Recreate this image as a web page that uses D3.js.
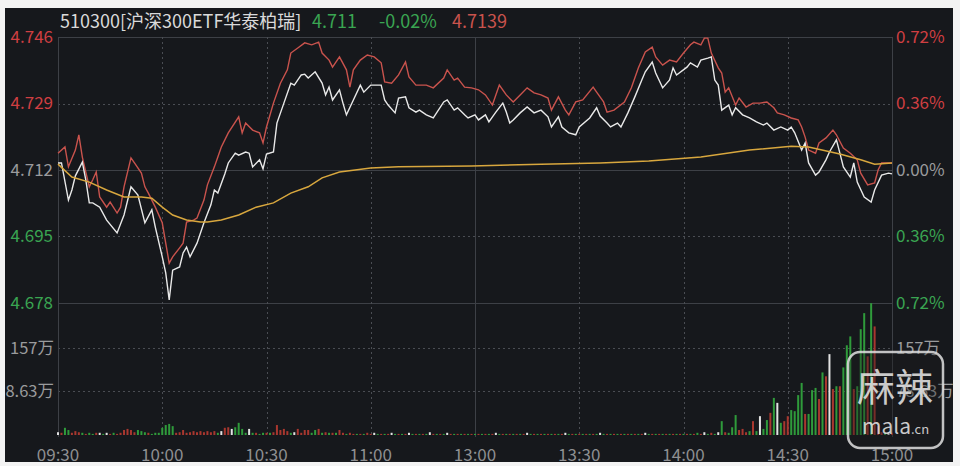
<!DOCTYPE html>
<html><head><meta charset="utf-8">
<script src="https://cdn.jsdelivr.net/npm/d3@7"></script>
<style>body{margin:0;background:#f3f3f3;} svg{display:block}</style>
</head><body><svg id="c" width="960" height="466"></svg>
<script>
// ---------- DATA ----------
const title = "510300[沪深300ETF华泰柏瑞]";
const headPrice = "4.711";
const headChange = "-0.02%";
const headIopv = "4.7139";
const prevClose = 4.712;
const timeTickMinutes = [0, 30, 60, 90, 120, 150, 180, 210, 240];
const timeTickLabels = ["09:30","10:00","10:30","11:00","13:00","13:30","14:00","14:30","15:00"];
const priceTicks = [4.746, 4.729, 4.712, 4.695, 4.678];
const priceTickLabels = ["4.746","4.729","4.712","4.695","4.678"];
const pctTickLabels = ["0.72%","0.36%","0.00%","0.36%","0.72%"];
const volTicks = [78.63, 157.26];
const volTickLabelsLeft = ["8.63万", "157万"];   // left label is cut at the frame edge in the source
const volTickLabelsRight = ["78.63万", "157万"];
const volMax = 238.3;

// [minute since 09:30, price]
const lastPrice = [[0,4.7138],[1,4.7138],[3,4.7043],[4,4.7069],[5,4.7105],[7,4.7140],[8,4.7095],[9,4.7036],[10,4.7036],[12,4.7025],[14,4.6992],[17,4.6959],[19,4.7005],[21,4.7077],[23,4.7056],[25,4.6985],[27,4.7018],[28,4.6974],[30,4.6898],[31,4.6857],[32,4.6788],[33,4.6864],[35,4.6872],[36,4.6908],[37,4.6923],[38,4.6898],[40,4.6933],[42,4.6985],[44,4.7031],[45,4.7069],[46,4.7061],[48,4.7110],[49,4.7138],[51,4.7163],[52,4.7158],[54,4.7166],[55,4.7163],[56,4.7128],[58,4.7146],[59,4.7123],[60,4.7161],[62,4.7166],[63,4.7240],[65,4.7291],[67,4.7342],[68,4.7337],[70,4.7363],[71,4.7365],[72,4.7355],[74,4.7371],[76,4.7342],[77,4.7312],[78,4.7332],[79,4.7299],[81,4.7325],[82,4.7291],[83,4.7261],[85,4.7299],[87,4.7337],[88,4.7319],[90,4.7337],[93,4.7337],[94,4.7299],[95,4.7286],[97,4.7266],[98,4.7304],[100,4.7307],[101,4.7279],[103,4.7268],[104,4.7273],[106,4.7261],[108,4.7253],[111,4.7294],[112,4.7299],[114,4.7273],[115,4.7279],[117,4.7261],[118,4.7253],[120,4.7261],[121,4.7248],[123,4.7261],[124,4.7243],[126,4.7268],[128,4.7291],[129,4.7268],[130,4.7240],[131,4.7248],[133,4.7266],[135,4.7281],[137,4.7266],[139,4.7273],[141,4.7256],[142,4.7230],[144,4.7256],[145,4.7230],[147,4.7215],[149,4.7210],[150,4.7230],[153,4.7253],[155,4.7279],[156,4.7258],[158,4.7240],[159,4.7230],[161,4.7240],[162,4.7230],[164,4.7266],[166,4.7307],[168,4.7350],[169,4.7371],[171,4.7396],[172,4.7368],[174,4.7330],[176,4.7350],[177,4.7381],[178,4.7363],[181,4.7383],[182,4.7394],[184,4.7383],[185,4.7401],[187,4.7406],[188,4.7409],[189,4.7350],[190,4.7337],[191,4.7273],[193,4.7286],[194,4.7261],[195,4.7279],[197,4.7261],[199,4.7253],[201,4.7243],[203,4.7235],[204,4.7240],[206,4.7222],[208,4.7230],[210,4.7222],[211,4.7230],[212,4.7215],[214,4.7171],[215,4.7189],[216,4.7138],[218,4.7107],[219,4.7115],[221,4.7146],[222,4.7166],[224,4.7197],[225,4.7163],[226,4.7128],[228,4.7102],[229,4.7138],[230,4.7089],[232,4.7051],[234,4.7038],[235,4.7069],[237,4.7107],[239,4.7112],[240,4.7110]];

const iopvLine = [[0,4.7163],[2,4.7179],[3,4.7128],[5,4.7171],[6,4.7210],[7,4.7153],[9,4.7077],[10,4.7095],[11,4.7115],[12,4.7051],[14,4.7025],[15,4.7038],[17,4.7010],[18,4.7025],[19,4.7077],[21,4.7151],[22,4.7138],[24,4.7112],[25,4.7077],[26,4.7061],[28,4.7025],[30,4.6985],[31,4.6933],[32,4.6882],[33,4.6898],[35,4.6921],[36,4.6933],[37,4.6987],[39,4.6992],[40,4.6997],[42,4.7043],[43,4.7082],[45,4.7128],[46,4.7153],[47,4.7179],[49,4.7215],[52,4.7256],[53,4.7215],[54,4.7240],[56,4.7222],[58,4.7215],[59,4.7189],[60,4.7230],[62,4.7291],[64,4.7342],[66,4.7376],[67,4.7419],[69,4.7432],[71,4.7445],[73,4.7440],[75,4.7447],[76,4.7419],[78,4.7401],[79,4.7383],[81,4.7409],[83,4.7376],[84,4.7332],[85,4.7376],[87,4.7401],[89,4.7414],[91,4.7409],[93,4.7394],[94,4.7345],[96,4.7342],[98,4.7363],[100,4.7396],[101,4.7358],[103,4.7337],[106,4.7337],[108,4.7330],[111,4.7355],[112,4.7376],[114,4.7350],[115,4.7355],[117,4.7332],[119,4.7330],[121,4.7325],[123,4.7312],[125,4.7286],[127,4.7337],[129,4.7312],[131,4.7294],[133,4.7312],[135,4.7330],[137,4.7317],[139,4.7312],[141,4.7304],[142,4.7273],[144,4.7307],[146,4.7273],[147,4.7261],[149,4.7294],[151,4.7299],[154,4.7332],[155,4.7319],[157,4.7294],[158,4.7268],[160,4.7273],[163,4.7294],[165,4.7330],[167,4.7381],[169,4.7422],[171,4.7434],[172,4.7409],[174,4.7388],[176,4.7401],[178,4.7396],[180,4.7419],[182,4.7440],[183,4.7447],[185,4.7440],[186,4.7457],[187,4.7457],[188,4.7419],[190,4.7381],[191,4.7368],[192,4.7319],[193,4.7330],[195,4.7286],[196,4.7304],[198,4.7281],[200,4.7291],[202,4.7291],[204,4.7294],[206,4.7279],[207,4.7266],[209,4.7261],[211,4.7253],[213,4.7248],[214,4.7230],[215,4.7204],[216,4.7171],[218,4.7163],[219,4.7189],[221,4.7202],[223,4.7222],[224,4.7210],[226,4.7176],[228,4.7163],[230,4.7146],[231,4.7112],[233,4.7082],[235,4.7087],[236,4.7120],[237,4.7138],[239,4.7138],[240,4.7138]];

const avgLine = [[0,4.7135],[4,4.7102],[9,4.7089],[14,4.7069],[19,4.7051],[24,4.7051],[27,4.7048],[30,4.7025],[33,4.7005],[37,4.6992],[41,4.6987],[43,4.6987],[47,4.6992],[52,4.7005],[57,4.7025],[62,4.7036],[67,4.7061],[72,4.7077],[76,4.7100],[81,4.7115],[90,4.7125],[98,4.7128],[119,4.7130],[139,4.7135],[156,4.7138],[170,4.7143],[185,4.7153],[199,4.7171],[211,4.7181],[216,4.7179],[225,4.7161],[231,4.7146],[235,4.7135],[240,4.7138]];

// per-minute volume (万), minute 0..240
const volume = [
 5,4,13,9,4,7,5,4,2,4,
 2,4,4,2,4,2,4,2,4,9,
 11,9,5,9,7,5,4,2,4,4,
 13,18,20,16,4,5,9,4,5,7,
 5,7,5,7,5,7,4,7,13,14,
 11,14,22,11,4,11,4,4,2,4,
 4,4,5,18,9,11,7,4,5,11,
 4,9,9,4,9,11,4,5,4,4,
 4,9,4,2,4,2,2,2,2,4,
 2,4,2,2,2,2,4,2,2,2,
 2,4,2,2,2,2,2,5,2,2,
 2,2,4,2,2,2,2,2,2,2,
 2,2,2,2,2,2,4,2,2,2,
 2,2,2,2,2,4,2,2,2,2,
 2,2,2,2,2,2,4,2,2,2,
 2,2,2,2,2,2,4,2,2,2,
 2,2,2,2,2,2,2,2,2,4,
 2,2,2,2,2,2,2,2,2,2,
 2,2,2,2,4,2,5,2,4,2,
 5,25,5,4,14,36,9,11,5,7,
 25,7,34,11,27,40,67,58,22,25,
 34,45,43,72,94,38,38,81,85,65,
 113,106,146,83,88,88,122,162,178,83,
 88,191,220,142,238,196,16,5,4,5,
 4];
// r = up (red), g = down (green), w = flat (white)
const volumeColor = (
 "wrggrrrgrg"+"grwgwrgrrr"+"rrrgggrggg"+"ggggrrrrrr"+"rrrrrrgwrr"+
 "wggggwgrgg"+"rgrrrrrgwr"+"rrrggrgrgr"+"grrgrrgrgr"+"rwgrgrwgrg"+
 "rwgrgrgwrg"+"rgwrgrgrgr"+"grgrgrwgrg"+"rgrgrwgrgr"+"grgrgrwgrg"+
 "rgrgrgwgrg"+"rgrgrgrgrw"+"grgrgrgrgr"+"grgrgrwgrg"+"wgrgggrrrg"+
 "rgwggrgwgr"+"rggggrgggr"+"grwrgrgggr"+"gggrgrrrgw"+"r").split("");

// ---------- DRAW ----------
const svg = d3.select("#c");
const W = 960, H = 466;
const L = 58, R = 892, T = 37, MID = 303, B = 435;
const FONT = "'Microsoft YaHei','Noto Sans CJK SC','Noto Sans',sans-serif";
const C = {bg:"#16181c", grid:"#3d4046", gridDash:"#4a4d53", red:"#cf3f42", green:"#3aa552", gray:"#9a9b9d",
  lineWhite:"#e9e9e9", lineRed:"#c9534d", lineYellow:"#d8a73e", volRed:"#a8372f", volGreen:"#2f9b3b", volWhite:"#e2e2e2"};

const x = d3.scaleLinear().domain([0, 240]).range([L, R]);
const y = d3.scaleLinear().domain([4.678, 4.746]).range([MID, T]);
const yv = d3.scaleLinear().domain([0, volMax]).range([B, MID]);

svg.append("rect").attr("width", W).attr("height", H).attr("fill", "#f3f3f3");
svg.append("defs").append("clipPath").attr("id", "panel")
  .append("rect").attr("x", 5).attr("y", 8).attr("width", 948).attr("height", 454);
svg.append("rect").attr("x", 5).attr("y", 8).attr("width", 948).attr("height", 454).attr("fill", C.bg);

const g = svg.append("g").attr("clip-path", "url(#panel)");

// horizontal grid
priceTicks.forEach((p, i) => {
  const solid = (i === 0 || i === 2 || i === 4);
  g.append("line").attr("x1", L).attr("x2", R).attr("y1", Math.round(y(p)) + 0.5).attr("y2", Math.round(y(p)) + 0.5)
    .attr("stroke", solid ? C.grid : C.gridDash).attr("stroke-width", 1)
    .attr("stroke-dasharray", solid ? null : "2,3");
});
volTicks.forEach(v => {
  g.append("line").attr("x1", L).attr("x2", R).attr("y1", Math.round(yv(v)) + 0.5).attr("y2", Math.round(yv(v)) + 0.5)
    .attr("stroke", C.gridDash).attr("stroke-dasharray", "2,3");
});
// vertical grid
timeTickMinutes.forEach((m, i) => {
  const solid = (i === 0 || i === 4 || i === 8);
  g.append("line").attr("x1", Math.round(x(m)) + 0.5).attr("x2", Math.round(x(m)) + 0.5).attr("y1", T).attr("y2", B + 2)
    .attr("stroke", solid ? C.grid : C.gridDash).attr("stroke-dasharray", solid ? null : "2,3");
});

// volume bars
g.append("g").selectAll("rect").data(volume).join("rect")
  .attr("x", (d, i) => x(i) - 1)
  .attr("width", 2)
  .attr("y", d => yv(d))
  .attr("height", d => B - yv(d))
  .attr("fill", (d, i) => volumeColor[i] === "r" ? C.volRed : volumeColor[i] === "g" ? C.volGreen : C.volWhite);

// lines
const line = d3.line().x(d => x(d[0])).y(d => y(d[1]));
g.append("path").datum(iopvLine).attr("d", line).attr("fill", "none").attr("stroke", C.lineRed).attr("stroke-width", 1.4);
g.append("path").datum(lastPrice).attr("d", line).attr("fill", "none").attr("stroke", C.lineWhite).attr("stroke-width", 1.4);
g.append("path").datum(avgLine).attr("d", line).attr("fill", "none").attr("stroke", C.lineYellow).attr("stroke-width", 1.5);

// axes labels
const tickColor = p => p > prevClose + 1e-9 ? C.red : (p < prevClose - 1e-9 ? C.green : C.gray);
const lab = svg.append("g").attr("font-family", FONT).attr("font-size", 17);
priceTicks.forEach((p, i) => {
  lab.append("text").attr("x", 53).attr("y", y(p)).attr("dy", "0.35em").attr("text-anchor", "end")
    .attr("fill", tickColor(p)).text(priceTickLabels[i]);
  lab.append("text").attr("x", 896).attr("y", y(p)).attr("dy", "0.35em").attr("text-anchor", "start")
    .attr("fill", tickColor(p)).text(pctTickLabels[i]);
});
volTicks.forEach((v, i) => {
  lab.append("text").attr("x", 54).attr("y", yv(v)).attr("dy", "0.35em").attr("text-anchor", "end")
    .attr("font-size", 16.5).attr("fill", C.gray).text(volTickLabelsLeft[i]);
  lab.append("text").attr("x", 896).attr("y", yv(v)).attr("dy", "0.35em").attr("text-anchor", "start")
    .attr("font-size", 16.5).attr("fill", C.gray).text(volTickLabelsRight[i]);
});
timeTickMinutes.forEach((m, i) => {
  lab.append("text").attr("x", x(m)).attr("y", 455).attr("dy", "0.35em").attr("text-anchor", "middle")
    .attr("fill", "#8e8f91").text(timeTickLabels[i]);
});

// header
const hd = svg.append("text").attr("y", 28).attr("font-family", FONT).attr("font-size", 18);
hd.append("tspan").attr("x", 60).attr("fill", "#dadada").text(title);
hd.append("tspan").attr("x", 312).attr("fill", C.green).text(headPrice);
hd.append("tspan").attr("x", 379).attr("fill", C.green).text(headChange);
hd.append("tspan").attr("x", 452).attr("fill", C.lineRed).text(headIopv);

// watermark
const wm = svg.append("g").attr("font-family", FONT);
wm.append("rect").attr("x", 848).attr("y", 352).attr("width", 95).attr("height", 96).attr("rx", 12)
  .attr("fill", "rgba(30,30,30,0.35)").attr("stroke", "rgba(225,225,225,0.85)").attr("stroke-width", 2.5);
wm.append("text").attr("x", 895).attr("y", 401).attr("text-anchor", "middle").attr("font-size", 38)
  .attr("fill", "rgba(235,235,235,0.85)").text("麻辣");
const wt = wm.append("text").attr("x", 862).attr("y", 434).attr("fill", "rgba(235,235,235,0.85)");
wt.append("tspan").attr("font-size", 21).text("mala");
wt.append("tspan").attr("font-size", 13).text(".cn");
</script></body></html>
